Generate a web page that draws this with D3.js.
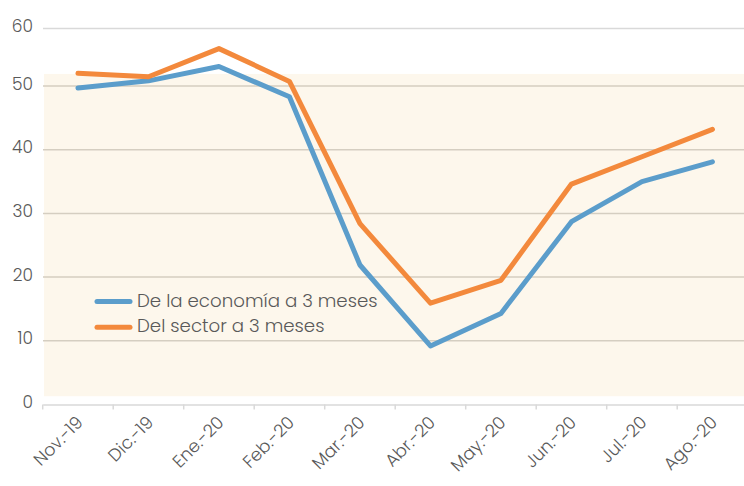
<!DOCTYPE html>
<html>
<head>
<meta charset="utf-8">
<script src="https://cdn.jsdelivr.net/npm/d3@7"></script>
<style>
  body { margin: 0; background: #fff; }
  text { font-family: "Poppins", "Lato", "Noto Sans", sans-serif; fill: #595959; font-weight: 300; }
</style>
</head>
<body>
<div id="chart"></div>
<script>
// data
var months = ["Nov.-19", "Dic.-19", "Ene.-20", "Feb.-20", "Mar.-20", "Abr.-20", "May.-20", "Jun.-20", "Jul.-20", "Ago.-20"];
var economia = [49.7, 50.9, 53.4, 48.3, 21.9, 9.2, 14.3, 28.7, 35.0, 38.1];
var sector = [52.2, 51.6, 56.5, 50.8, 28.4, 15.9, 19.5, 34.6, 38.9, 43.2];
var yTicks = [0, 10, 20, 30, 40, 50, 60];
var seriesNames = ["De la economía a 3 meses", "Del sector a 3 meses"];
var colors = ["#5b9dcb", "#f3893c"];

var width = 744, height = 486;

var svg = d3.select("#chart").append("svg")
    .attr("width", width)
    .attr("height", height);

var x = d3.scaleBand()
    .domain(months)
    .range([42.7, 747.7]);

// the upper band is compressed in the original
var y = d3.scaleLinear()
    .domain([0, 50, 60])
    .range([404.5, 86, 28.5]);

// beige plot panel
svg.append("rect")
    .attr("x", 44)
    .attr("y", y(52.1))
    .attr("width", width - 44)
    .attr("height", y(1.3) - y(52.1))
    .attr("fill", "#fdf7ec");

// gridlines
svg.append("g")
    .selectAll("line")
    .data(yTicks.filter(function(d) { return d > 0; }))
    .enter().append("line")
    .attr("x1", 43)
    .attr("x2", width)
    .attr("y1", function(d) { return y(d); })
    .attr("y2", function(d) { return y(d); })
    .attr("stroke", function(d) { return d == 60 ? "#d9d9d9" : "#d5cec1"; })
    .attr("stroke-width", 1.5);

// y labels
svg.append("g")
    .selectAll("text")
    .data(yTicks)
    .enter().append("text")
    .attr("x", 33)
    .attr("y", function(d) { return y(d) + 3.5; })
    .attr("text-anchor", "end")
    .attr("font-size", 17)
    .text(function(d) { return d; });

// x axis
var xAxis = svg.append("g")
    .attr("transform", "translate(0," + y(0) + ")")
    .call(d3.axisBottom(x).tickSize(0).tickFormat(""));
xAxis.select(".domain").attr("stroke", "#d9d9d9").attr("stroke-width", 1.5);

xAxis.selectAll(".edge")
    .data(months)
    .enter().append("line")
    .attr("class", "edge")
    .attr("x1", function(d) { return x(d); })
    .attr("x2", function(d) { return x(d); })
    .attr("y1", 0)
    .attr("y2", 5)
    .attr("stroke", "#d9d9d9")
    .attr("stroke-width", 1.5);

xAxis.selectAll(".lbl")
    .data(months)
    .enter().append("text")
    .attr("class", "lbl")
    .attr("font-size", 17.5)
    .attr("text-anchor", "end")
    .attr("transform", function(d) {
        return "translate(" + (x(d) + x.bandwidth() / 2 + 6) + ",19) rotate(-45)";
    })
    .text(function(d) { return d; });

// lines
var line = d3.line()
    .x(function(d, i) { return x(months[i]) + x.bandwidth() / 2; })
    .y(function(d) { return y(d); });

[economia, sector].forEach(function(s, i) {
    svg.append("path")
        .datum(s)
        .attr("fill", "none")
        .attr("stroke", colors[i])
        .attr("stroke-width", 5)
        .attr("stroke-linejoin", "round")
        .attr("stroke-linecap", "round")
        .attr("d", line);
});

// legend
var legend = svg.append("g").attr("transform", "translate(97,301.5)");
seriesNames.forEach(function(n, i) {
    var g = legend.append("g").attr("transform", "translate(0," + (i * 25.8) + ")");
    g.append("line")
        .attr("x1", 0).attr("x2", 33)
        .attr("stroke", colors[i])
        .attr("stroke-width", 5)
        .attr("stroke-linecap", "round");
    g.append("text")
        .attr("x", 40)
        .attr("y", 5)
        .attr("font-size", 18.2)
        .text(n);
});
</script>
</body>
</html>
